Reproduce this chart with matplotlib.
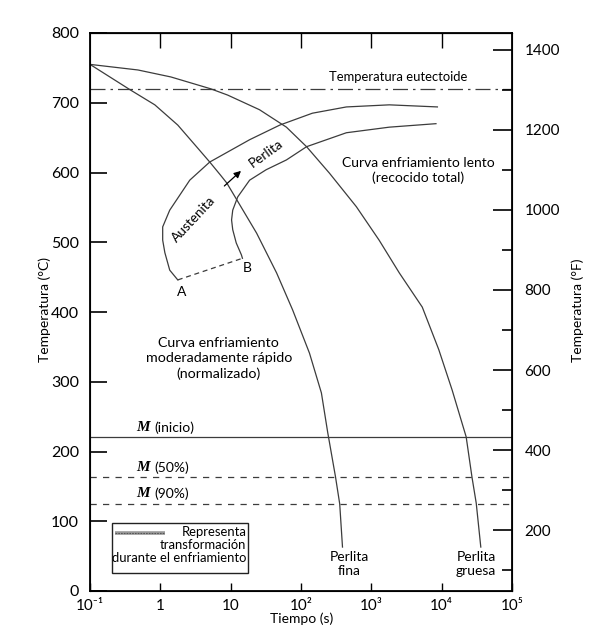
import matplotlib
matplotlib.use("Agg")
import matplotlib.pyplot as plt
from matplotlib.ticker import FixedLocator, FixedFormatter, NullLocator

plt.rcParams['font.family'] = ['Lato', 'DejaVu Sans']

# curvas de enfriamiento: tiempo (s), temperatura (°C)
t_normalizado = [0.1, 0.38, 0.835, 1.77, 3.40, 5.04, 7.2, 8.8, 12.2, 23.4, 45, 76, 132, 195, 240,
                 309, 355, 389]
T_normalizado = [755, 718, 697, 668, 635, 615, 596, 585, 561, 513, 456, 403, 341, 284, 227,
                 164, 125, 63]

t_recocido = [0.1, 0.48, 1.41, 5.2, 9.06, 25.7, 62, 120, 254, 612, 1290, 2500, 5300, 9100,
              14100, 22300, 27000, 31000, 36000]
T_recocido = [755, 747, 737, 720, 711, 690, 665, 637, 599, 551, 503, 456, 407, 346,
              288, 221, 163, 126, 63]

# curva de inicio de transformación (A) y de fin (B)
t_inicio = [1.77, 1.36, 1.16, 1.08, 1.08, 1.36, 1.71, 2.62, 5.04, 18.6, 50, 145, 442, 1800, 8700]
T_inicio = [446, 460, 485, 503, 522, 546, 561, 589, 615, 647, 668, 685, 694, 697, 694]

t_fin = [14.7, 14.2, 12.0, 10.7, 10.3, 10.7, 12.6, 18.6, 32, 62, 120, 442, 1800, 8300]
T_fin = [477, 482, 499, 518, 532, 546, 565, 589, 604, 618, 637, 657, 665, 670]

t_AB = [t_inicio[0], t_fin[0]]
T_AB = [T_inicio[0], T_fin[0]]

T_eutectoide = 719
T_Ms = 221
T_M50 = 163
T_M90 = 125

x_ticks = [0.1, 1, 10, 1e2, 1e3, 1e4, 1e5]
x_labels = ['10⁻¹', '1', '10', '10²', '10³', '10⁴', '10⁵']
yC_ticks = [0, 100, 200, 300, 400, 500, 600, 700, 800]
yF_ticks = [200, 400, 600, 800, 1000, 1200, 1400]
yF_minor = [100, 300, 500, 700, 900, 1100, 1300]

fig = plt.figure(figsize=(5.91, 6.33), dpi=100)
ax = fig.add_axes([90 / 591, 1 - 591 / 633, 422 / 591, 558 / 633])
ax.set_xscale('log')
ax.set_xlim(0.1, 1e5)
ax.set_ylim(0, 800)

lc = '#3c3c3c'
lw = 0.9
ax.plot(t_normalizado, T_normalizado, color=lc, lw=lw)
ax.plot(t_recocido, T_recocido, color=lc, lw=lw)
ax.plot(t_inicio, T_inicio, color=lc, lw=lw)
ax.plot(t_fin, T_fin, color=lc, lw=lw)
ax.plot(t_AB, T_AB, color=lc, lw=lw, dashes=(4, 3))

ax.axhline(T_eutectoide, color=lc, lw=lw, dashes=(12, 4, 2, 4))
ax.axhline(T_Ms, color=lc, lw=lw)
ax.axhline(T_M50, color=lc, lw=lw, dashes=(5, 5))
ax.axhline(T_M90, color=lc, lw=lw, dashes=(5, 5))

# ejes
for s in ax.spines.values():
    s.set_linewidth(1.3)
ax.xaxis.set_major_locator(FixedLocator(x_ticks))
ax.xaxis.set_major_formatter(FixedFormatter(x_labels))
ax.xaxis.set_minor_locator(NullLocator())
ax.tick_params(axis='x', direction='in', length=6, width=1, pad=6, labelsize=11)
ax.set_yticks(yC_ticks)
ax.tick_params(axis='y', direction='in', length=12, width=1.2, pad=8, labelsize=11.5)

top = ax.secondary_xaxis('top')
top.set_xticks(x_ticks[1:-1])
top.xaxis.set_minor_locator(NullLocator())
top.tick_params(direction='in', length=11, width=1, labeltop=False)

axF = ax.twinx()
axF.set_ylim(48, 1442)
axF.set_yticks(yF_ticks)
axF.set_yticks(yF_minor, minor=True)
axF.tick_params(axis='y', which='major', direction='in', length=14, width=1.2, pad=9, labelsize=11)
axF.tick_params(axis='y', which='minor', direction='in', length=7, width=1.2)

fs = 10
ax.text(2400, 737, 'Temperatura eutectoide', ha='center', va='center', fontsize=9.4)
ax.text(4600, 603, 'Curva enfriamiento lento\n(recocido total)', ha='center', va='center',
        fontsize=fs, linespacing=1.25)
ax.text(6.8, 333, 'Curva enfriamiento\nmoderadamente rápido\n(normalizado)', ha='center',
        va='center', fontsize=10.3, linespacing=1.3)
ax.text(3.0, 533, 'Austenita', rotation=47, ha='center', va='center', fontsize=9.8)
ax.text(31.6, 628, 'Perlita', rotation=36, ha='center', va='center', fontsize=9.8)
ax.annotate('', xy=(15, 605), xytext=(7.6, 578),
            arrowprops=dict(arrowstyle='-|>', color='black', lw=0.9, mutation_scale=10))
ax.text(2.0, 428, 'A', ha='center', va='center', fontsize=fs)
ax.text(17, 463, 'B', ha='center', va='center', fontsize=fs)
ax.text(480, 38, 'Perlita\nfina', ha='center', va='center', fontsize=fs, linespacing=1.2)
ax.text(31000, 38, 'Perlita\ngruesa', ha='center', va='center', fontsize=fs, linespacing=1.2)

for T, lab in [(234, '(inicio)'), (177, '(50%)'), (140, '(90%)')]:
    ax.text(0.46, T, 'M', family='Liberation Serif', weight='bold', style='italic',
            fontsize=11, ha='left', va='center')
    ax.annotate(lab, xy=(0.46, T), xytext=(13, 0), textcoords='offset points',
                ha='left', va='center', fontsize=fs)

# recuadro de leyenda
ax.text(0.370, 0.117, 'Representa\ntransformación\ndurante el enfriamiento', transform=ax.transAxes,
        ha='right', va='top', multialignment='right', fontsize=9.4, linespacing=1.1)
box = plt.Rectangle((0.052, 0.032), 0.322, 0.090, transform=ax.transAxes, fill=False,
                    edgecolor='#222222', lw=1)
ax.add_patch(box)
ax.plot([0.059, 0.178], [0.104, 0.104], transform=ax.transAxes, color='#9a9a9a', lw=2.6,
        solid_capstyle='butt')
ax.plot([0.059, 0.178], [0.104, 0.104], transform=ax.transAxes, color='#555555', lw=0.8,
        dashes=(1.5, 1))

fig.text(45 / 591, 1 - 310 / 633, 'Temperatura (°C)', rotation=90, ha='center', va='center',
         fontsize=fs)
fig.text(578 / 591, 1 - 310 / 633, 'Temperatura (°F)', rotation=90, ha='center', va='center',
         fontsize=fs)
fig.text(302 / 591, 1 - 619 / 633, 'Tiempo (s)', ha='center', va='center', fontsize=fs)

fig.savefig('out.png', dpi=100)
